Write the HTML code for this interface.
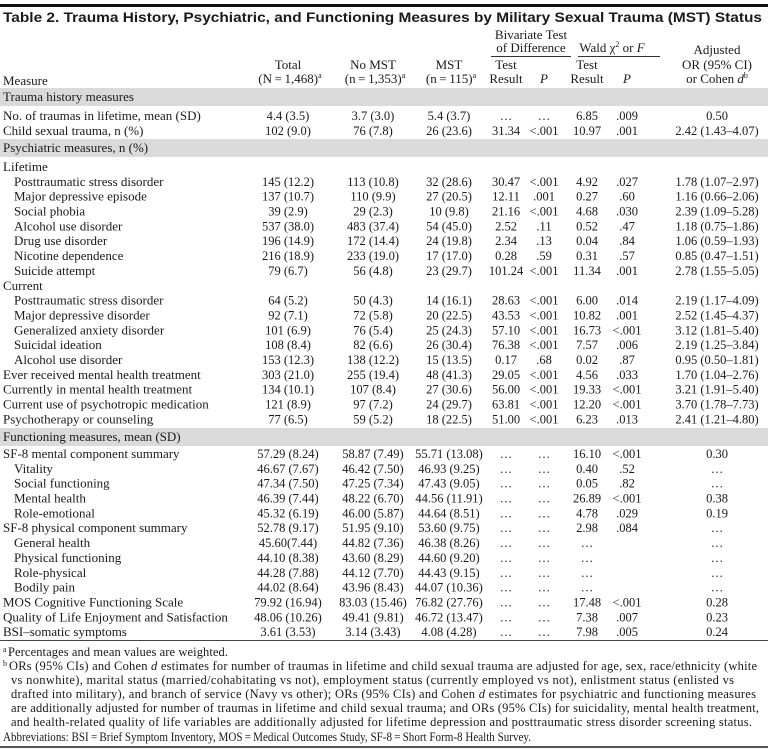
<!DOCTYPE html>
<html>
<head>
<meta charset="utf-8">
<style>
html,body{margin:0;padding:0;background:#fff;}
body{width:768px;height:750px;overflow:hidden;}
svg{display:block;}
text{fill:#1a1a1a;font-family:"Liberation Serif",serif;}
.t{font-family:"Liberation Sans",sans-serif;font-weight:bold;font-size:14px;}
.h{font-size:13px;text-anchor:middle;}
.hl{font-size:13px;}
g.r text{font-size:12.5px;text-anchor:middle;}
g.r text.l{font-size:13px;text-anchor:start;}
.f{font-size:12.5px;}
.sup{font-size:8px;}
</style>
</head>
<body>
<svg width="768" height="750" viewBox="0 0 768 750" xmlns="http://www.w3.org/2000/svg">
<rect x="0" y="4" width="768" height="3" fill="#111"/>
<text class="t" x="3" y="22" textLength="759" lengthAdjust="spacingAndGlyphs">Table 2. Trauma History, Psychiatric, and Functioning Measures by Military Sexual Trauma (MST) Status</text>

<!-- header -->
<text class="h" x="531" y="39">Bivariate Test</text>
<text class="h" x="531" y="52">of Difference</text>
<line x1="491" y1="56.5" x2="571" y2="56.5" stroke="#333" stroke-width="1"/>
<text class="h" x="612" y="52">Wald χ<tspan class="sup" dy="-5">2</tspan><tspan dy="5"> or </tspan><tspan font-style="italic">F</tspan></text>
<line x1="578" y1="56.5" x2="660" y2="56.5" stroke="#333" stroke-width="1"/>
<text class="h" x="717" y="54">Adjusted</text>

<text class="h" x="288" y="69">Total</text>
<text class="h" x="373" y="69">No MST</text>
<text class="h" x="449" y="69">MST</text>
<text class="h" x="506" y="69">Test</text>
<text class="h" x="587" y="69">Test</text>
<text class="h" x="717" y="69">OR (95% CI)</text>

<text class="hl" x="3" y="85">Measure</text>
<text class="h" x="290" y="83">(N&#8201;=&#8201;1,468)<tspan class="sup" dy="-5">a</tspan></text>
<text class="h" x="375" y="83">(n&#8201;=&#8201;1,353)<tspan class="sup" dy="-5">a</tspan></text>
<text class="h" x="451" y="83">(n&#8201;=&#8201;115)<tspan class="sup" dy="-5">a</tspan></text>
<text class="h" x="506" y="83">Result</text>
<text class="h" x="544" y="83" font-style="italic">P</text>
<text class="h" x="587" y="83">Result</text>
<text class="h" x="627" y="83" font-style="italic">P</text>
<text class="h" x="717" y="83">or Cohen <tspan font-style="italic">d</tspan><tspan class="sup" dy="-5">b</tspan></text>

<!-- gray bands -->
<rect x="0" y="88" width="768" height="18" fill="#dadada"/>
<rect x="0" y="139" width="768" height="18" fill="#dadada"/>
<rect x="0" y="428" width="768" height="18" fill="#dadada"/>

<g class="r" transform="translate(0,101)"><text class="l" x="3">Trauma history measures</text></g>
<g class="r" transform="translate(0,120)"><text class="l" x="3">No. of traumas in lifetime, mean (SD)</text><text x="288">4.4 (3.5)</text><text x="373">3.7 (3.0)</text><text x="449">5.4 (3.7)</text><text x="506">…</text><text x="544">…</text><text x="587">6.85</text><text x="627">.009</text><text x="717">0.50</text></g>
<g class="r" transform="translate(0,135)"><text class="l" x="3">Child sexual trauma, n (%)</text><text x="288">102 (9.0)</text><text x="373">76 (7.8)</text><text x="449">26 (23.6)</text><text x="506">31.34</text><text x="544">&lt;.001</text><text x="587">10.97</text><text x="627">.001</text><text x="717">2.42 (1.43–4.07)</text></g>
<g class="r" transform="translate(0,152)"><text class="l" x="3">Psychiatric measures, n (%)</text></g>
<g class="r" transform="translate(0,171)"><text class="l" x="3">Lifetime</text></g>
<g class="r" transform="translate(0,186)"><text class="l" x="14">Posttraumatic stress disorder</text><text x="288">145 (12.2)</text><text x="373">113 (10.8)</text><text x="449">32 (28.6)</text><text x="506">30.47</text><text x="544">&lt;.001</text><text x="587">4.92</text><text x="627">.027</text><text x="717">1.78 (1.07–2.97)</text></g>
<g class="r" transform="translate(0,200.7)"><text class="l" x="14">Major depressive episode</text><text x="288">137 (10.7)</text><text x="373">110 (9.9)</text><text x="449">27 (20.5)</text><text x="506">12.11</text><text x="544">.001</text><text x="587">0.27</text><text x="627">.60</text><text x="717">1.16 (0.66–2.06)</text></g>
<g class="r" transform="translate(0,215.5)"><text class="l" x="14">Social phobia</text><text x="288">39 (2.9)</text><text x="373">29 (2.3)</text><text x="449">10 (9.8)</text><text x="506">21.16</text><text x="544">&lt;.001</text><text x="587">4.68</text><text x="627">.030</text><text x="717">2.39 (1.09–5.28)</text></g>
<g class="r" transform="translate(0,230.4)"><text class="l" x="14">Alcohol use disorder</text><text x="288">537 (38.0)</text><text x="373">483 (37.4)</text><text x="449">54 (45.0)</text><text x="506">2.52</text><text x="544">.11</text><text x="587">0.52</text><text x="627">.47</text><text x="717">1.18 (0.75–1.86)</text></g>
<g class="r" transform="translate(0,245.2)"><text class="l" x="14">Drug use disorder</text><text x="288">196 (14.9)</text><text x="373">172 (14.4)</text><text x="449">24 (19.8)</text><text x="506">2.34</text><text x="544">.13</text><text x="587">0.04</text><text x="627">.84</text><text x="717">1.06 (0.59–1.93)</text></g>
<g class="r" transform="translate(0,260.1)"><text class="l" x="14">Nicotine dependence</text><text x="288">216 (18.9)</text><text x="373">233 (19.0)</text><text x="449">17 (17.0)</text><text x="506">0.28</text><text x="544">.59</text><text x="587">0.31</text><text x="627">.57</text><text x="717">0.85 (0.47–1.51)</text></g>
<g class="r" transform="translate(0,275)"><text class="l" x="14">Suicide attempt</text><text x="288">79 (6.7)</text><text x="373">56 (4.8)</text><text x="449">23 (29.7)</text><text x="506">101.24</text><text x="544">&lt;.001</text><text x="587">11.34</text><text x="627">.001</text><text x="717">2.78 (1.55–5.05)</text></g>
<g class="r" transform="translate(0,289.8)"><text class="l" x="3">Current</text></g>
<g class="r" transform="translate(0,304.6)"><text class="l" x="14">Posttraumatic stress disorder</text><text x="288">64 (5.2)</text><text x="373">50 (4.3)</text><text x="449">14 (16.1)</text><text x="506">28.63</text><text x="544">&lt;.001</text><text x="587">6.00</text><text x="627">.014</text><text x="717">2.19 (1.17–4.09)</text></g>
<g class="r" transform="translate(0,319.5)"><text class="l" x="14">Major depressive disorder</text><text x="288">92 (7.1)</text><text x="373">72 (5.8)</text><text x="449">20 (22.5)</text><text x="506">43.53</text><text x="544">&lt;.001</text><text x="587">10.82</text><text x="627">.001</text><text x="717">2.52 (1.45–4.37)</text></g>
<g class="r" transform="translate(0,334.3)"><text class="l" x="14">Generalized anxiety disorder</text><text x="288">101 (6.9)</text><text x="373">76 (5.4)</text><text x="449">25 (24.3)</text><text x="506">57.10</text><text x="544">&lt;.001</text><text x="587">16.73</text><text x="627">&lt;.001</text><text x="717">3.12 (1.81–5.40)</text></g>
<g class="r" transform="translate(0,349.2)"><text class="l" x="14">Suicidal ideation</text><text x="288">108 (8.4)</text><text x="373">82 (6.6)</text><text x="449">26 (30.4)</text><text x="506">76.38</text><text x="544">&lt;.001</text><text x="587">7.57</text><text x="627">.006</text><text x="717">2.19 (1.25–3.84)</text></g>
<g class="r" transform="translate(0,364)"><text class="l" x="14">Alcohol use disorder</text><text x="288">153 (12.3)</text><text x="373">138 (12.2)</text><text x="449">15 (13.5)</text><text x="506">0.17</text><text x="544">.68</text><text x="587">0.02</text><text x="627">.87</text><text x="717">0.95 (0.50–1.81)</text></g>
<g class="r" transform="translate(0,378.9)"><text class="l" x="3">Ever received mental health treatment</text><text x="288">303 (21.0)</text><text x="373">255 (19.4)</text><text x="449">48 (41.3)</text><text x="506">29.05</text><text x="544">&lt;.001</text><text x="587">4.56</text><text x="627">.033</text><text x="717">1.70 (1.04–2.76)</text></g>
<g class="r" transform="translate(0,393.7)"><text class="l" x="3">Currently in mental health treatment</text><text x="288">134 (10.1)</text><text x="373">107 (8.4)</text><text x="449">27 (30.6)</text><text x="506">56.00</text><text x="544">&lt;.001</text><text x="587">19.33</text><text x="627">&lt;.001</text><text x="717">3.21 (1.91–5.40)</text></g>
<g class="r" transform="translate(0,408.6)"><text class="l" x="3">Current use of psychotropic medication</text><text x="288">121 (8.9)</text><text x="373">97 (7.2)</text><text x="449">24 (29.7)</text><text x="506">63.81</text><text x="544">&lt;.001</text><text x="587">12.20</text><text x="627">&lt;.001</text><text x="717">3.70 (1.78–7.73)</text></g>
<g class="r" transform="translate(0,423.4)"><text class="l" x="3">Psychotherapy or counseling</text><text x="288">77 (6.5)</text><text x="373">59 (5.2)</text><text x="449">18 (22.5)</text><text x="506">51.00</text><text x="544">&lt;.001</text><text x="587">6.23</text><text x="627">.013</text><text x="717">2.41 (1.21–4.80)</text></g>
<g class="r" transform="translate(0,441)"><text class="l" x="3">Functioning measures, mean (SD)</text></g>
<g class="r" transform="translate(0,458)"><text class="l" x="3">SF-8 mental component summary</text><text x="288">57.29 (8.24)</text><text x="373">58.87 (7.49)</text><text x="449">55.71 (13.08)</text><text x="506">…</text><text x="544">…</text><text x="587">16.10</text><text x="627">&lt;.001</text><text x="717">0.30</text></g>
<g class="r" transform="translate(0,472.8)"><text class="l" x="14">Vitality</text><text x="288">46.67 (7.67)</text><text x="373">46.42 (7.50)</text><text x="449">46.93 (9.25)</text><text x="506">…</text><text x="544">…</text><text x="587">0.40</text><text x="627">.52</text><text x="717">…</text></g>
<g class="r" transform="translate(0,487.7)"><text class="l" x="14">Social functioning</text><text x="288">47.34 (7.50)</text><text x="373">47.25 (7.34)</text><text x="449">47.43 (9.05)</text><text x="506">…</text><text x="544">…</text><text x="587">0.05</text><text x="627">.82</text><text x="717">…</text></g>
<g class="r" transform="translate(0,502.5)"><text class="l" x="14">Mental health</text><text x="288">46.39 (7.44)</text><text x="373">48.22 (6.70)</text><text x="449">44.56 (11.91)</text><text x="506">…</text><text x="544">…</text><text x="587">26.89</text><text x="627">&lt;.001</text><text x="717">0.38</text></g>
<g class="r" transform="translate(0,517.4)"><text class="l" x="14">Role-emotional</text><text x="288">45.32 (6.19)</text><text x="373">46.00 (5.87)</text><text x="449">44.64 (8.51)</text><text x="506">…</text><text x="544">…</text><text x="587">4.78</text><text x="627">.029</text><text x="717">0.19</text></g>
<g class="r" transform="translate(0,532.2)"><text class="l" x="3">SF-8 physical component summary</text><text x="288">52.78 (9.17)</text><text x="373">51.95 (9.10)</text><text x="449">53.60 (9.75)</text><text x="506">…</text><text x="544">…</text><text x="587">2.98</text><text x="627">.084</text><text x="717">…</text></g>
<g class="r" transform="translate(0,547.1)"><text class="l" x="14">General health</text><text x="288">45.60(7.44)</text><text x="373">44.82 (7.36)</text><text x="449">46.38 (8.26)</text><text x="506">…</text><text x="544">…</text><text x="587">…</text><text x="717">…</text></g>
<g class="r" transform="translate(0,561.9)"><text class="l" x="14">Physical functioning</text><text x="288">44.10 (8.38)</text><text x="373">43.60 (8.29)</text><text x="449">44.60 (9.20)</text><text x="506">…</text><text x="544">…</text><text x="587">…</text><text x="717">…</text></g>
<g class="r" transform="translate(0,576.8)"><text class="l" x="14">Role-physical</text><text x="288">44.28 (7.88)</text><text x="373">44.12 (7.70)</text><text x="449">44.43 (9.15)</text><text x="506">…</text><text x="544">…</text><text x="587">…</text><text x="717">…</text></g>
<g class="r" transform="translate(0,591.6)"><text class="l" x="14">Bodily pain</text><text x="288">44.02 (8.64)</text><text x="373">43.96 (8.43)</text><text x="449">44.07 (10.36)</text><text x="506">…</text><text x="544">…</text><text x="587">…</text><text x="717">…</text></g>
<g class="r" transform="translate(0,606.5)"><text class="l" x="3">MOS Cognitive Functioning Scale</text><text x="288">79.92 (16.94)</text><text x="373">83.03 (15.46)</text><text x="449">76.82 (27.76)</text><text x="506">…</text><text x="544">…</text><text x="587">17.48</text><text x="627">&lt;.001</text><text x="717">0.28</text></g>
<g class="r" transform="translate(0,621.3)"><text class="l" x="3">Quality of Life Enjoyment and Satisfaction</text><text x="288">48.06 (10.26)</text><text x="373">49.41 (9.81)</text><text x="449">46.72 (13.47)</text><text x="506">…</text><text x="544">…</text><text x="587">7.38</text><text x="627">.007</text><text x="717">0.23</text></g>
<g class="r" transform="translate(0,636.2)"><text class="l" x="3">BSI–somatic symptoms</text><text x="288">3.61 (3.53)</text><text x="373">3.14 (3.43)</text><text x="449">4.08 (4.28)</text><text x="506">…</text><text x="544">…</text><text x="587">7.98</text><text x="627">.005</text><text x="717">0.24</text></g>

<rect x="0" y="640" width="768" height="1" fill="#444"/>

<!-- footnotes -->
<text class="sup" x="3" y="652">a</text>
<text class="f" x="8" y="656" textLength="220" lengthAdjust="spacing">Percentages and mean values are weighted.</text>
<text class="sup" x="3" y="666">b</text>
<text class="f" x="9" y="670" textLength="748" lengthAdjust="spacing">ORs (95% CIs) and Cohen <tspan font-style="italic">d</tspan> estimates for number of traumas in lifetime and child sexual trauma are adjusted for age, sex, race/ethnicity (white</text>
<text class="f" x="11" y="684" textLength="723" lengthAdjust="spacing">vs nonwhite), marital status (married/cohabitating vs not), employment status (currently employed vs not), enlistment status (enlisted vs</text>
<text class="f" x="11" y="698" textLength="745" lengthAdjust="spacing">drafted into military), and branch of service (Navy vs other); ORs (95% CIs) and Cohen <tspan font-style="italic">d</tspan> estimates for psychiatric and functioning measures</text>
<text class="f" x="11" y="712" textLength="748" lengthAdjust="spacing">are additionally adjusted for number of traumas in lifetime and child sexual trauma; and ORs (95% CIs) for suicidality, mental health treatment,</text>
<text class="f" x="11" y="726" textLength="741" lengthAdjust="spacing">and health-related quality of life variables are additionally adjusted for lifetime depression and posttraumatic stress disorder screening status.</text>
<text class="f" x="3" y="741" textLength="528" lengthAdjust="spacingAndGlyphs">Abbreviations: BSI&#8201;=&#8201;Brief Symptom Inventory, MOS&#8201;=&#8201;Medical Outcomes Study, SF-8&#8201;=&#8201;Short Form-8 Health Survey.</text>

<rect x="0" y="746" width="768" height="2" fill="#555"/>
</svg>
</body>
</html>
